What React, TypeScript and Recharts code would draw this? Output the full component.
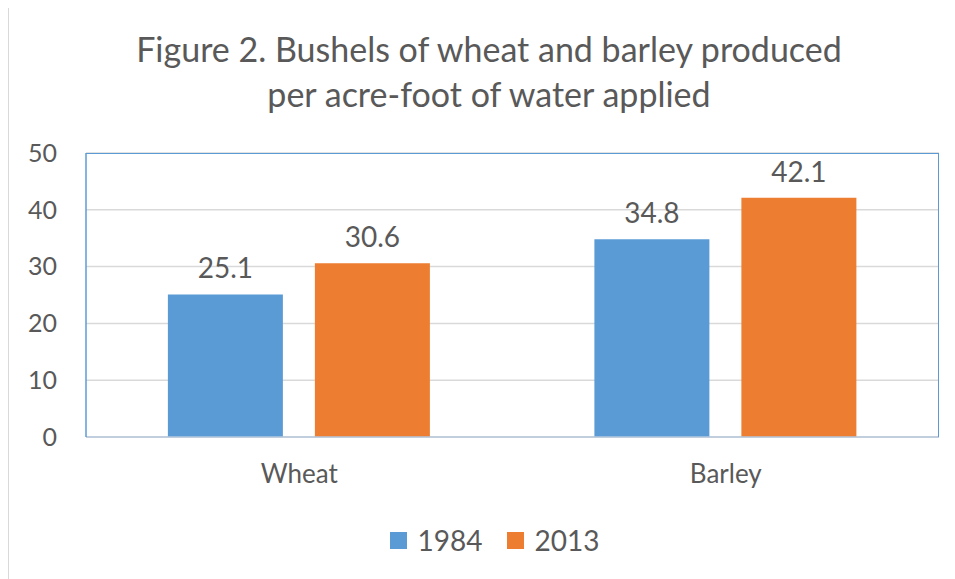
import { BarChart, Bar, XAxis, YAxis, CartesianGrid, Legend, LabelList } from 'recharts'

const categories = ['Wheat', 'Barley']
const values1984 = [25.1, 34.8]
const values2013 = [30.6, 42.1]
const seriesNames = ['1984', '2013']
const yTicks = [0, 10, 20, 30, 40, 50]

const titleLines = ['Figure 2. Bushels of wheat and barley produced', 'per acre-foot of water applied']

const BLUE = '#5B9BD5'
const ORANGE = '#ED7D31'
const TEXT = '#595959'
const FONT = 'Lato, "Open Sans", sans-serif'

const data = categories.map((name, i) => ({
  name,
  [seriesNames[0]]: values1984[i],
  [seriesNames[1]]: values2013[i],
}))

function LegendBox() {
  const colors = [BLUE, ORANGE]
  return (
    <div
      style={{
        height: 70,
        display: 'flex',
        alignItems: 'center',
        justifyContent: 'center',
        paddingLeft: 41,
        fontFamily: FONT,
        fontSize: 28,
        color: TEXT,
      }}
    >
      {seriesNames.map((s, i) => (
        <div key={s} style={{ display: 'flex', alignItems: 'center', marginRight: i === 0 ? 24 : 0 }}>
          <span style={{ width: 17, height: 17, background: colors[i], display: 'inline-block', marginRight: 11 }} />
          <span>{s}</span>
        </div>
      ))}
    </div>
  )
}

export default function App() {
  return (
    <div
      style={{
        position: 'relative',
        marginTop: -1,
        width: 950,
        height: 575,
        border: '1px solid #d9d9d9',
        background: '#fff',
        fontFamily: FONT,
      }}
    >
      <div
        style={{
          position: 'absolute',
          left: 0,
          top: 18,
          width: 960,
          textAlign: 'center',
          fontSize: 34,
          lineHeight: '45px',
          color: TEXT,
        }}
      >
        {titleLines.map((l) => (
          <div key={l}>{l}</div>
        ))}
      </div>
      <BarChart
        width={950}
        height={575}
        data={data}
        margin={{ top: 145, right: 20, bottom: 8, left: 0 }}
        barCategoryGap="19.2%"
        barGap={32}
      >
        <CartesianGrid vertical={false} stroke="#d9d9d9" strokeWidth={1.5} />
        <XAxis
          dataKey="name"
          height={68}
          tickLine={false}
          axisLine={{ stroke: '#b4c7dc', strokeWidth: 1.5 }}
          tickSize={0}
          tickMargin={28}
          tick={{ fill: TEXT, fontSize: 26, fontFamily: FONT }}
        />
        <YAxis
          width={77}
          domain={[0, 50]}
          ticks={yTicks}
          tickLine={false}
          axisLine={{ stroke: BLUE, strokeWidth: 1.5 }}
          tickSize={0}
          tickMargin={29}
          tick={{ fill: TEXT, fontSize: 25, fontFamily: FONT }}
        />
        <Legend verticalAlign="bottom" height={70} content={() => <LegendBox />} />
        <Bar dataKey={seriesNames[0]} fill={BLUE} isAnimationActive={false}>
          <LabelList dataKey={seriesNames[0]} position="top" offset={16} fill={TEXT} fontSize={28} fontFamily={FONT} />
        </Bar>
        <Bar dataKey={seriesNames[1]} fill={ORANGE} isAnimationActive={false}>
          <LabelList dataKey={seriesNames[1]} position="top" offset={16} fill={TEXT} fontSize={28} fontFamily={FONT} />
        </Bar>
      </BarChart>
      <div
        style={{
          position: 'absolute',
          left: 77,
          top: 145,
          width: 853,
          height: 284,
          boxSizing: 'border-box',
          borderTop: `1.5px solid ${BLUE}`,
          borderRight: `1.5px solid ${BLUE}`,
          pointerEvents: 'none',
        }}
      />
    </div>
  )
}
